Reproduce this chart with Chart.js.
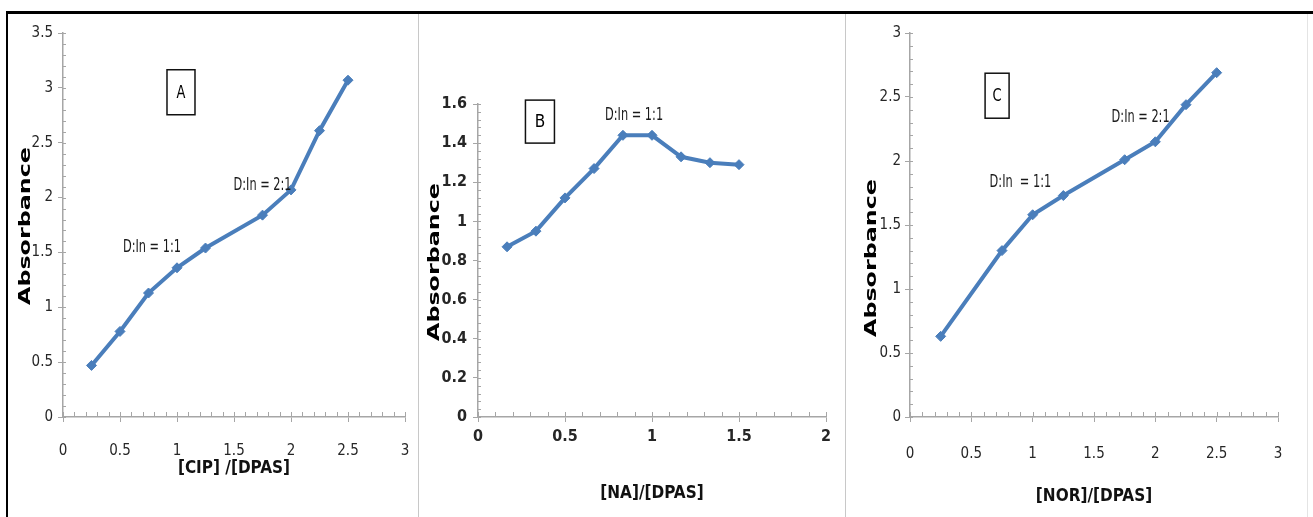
<!DOCTYPE html>
<html>
<head>
<meta charset="utf-8">
<script src="https://cdn.jsdelivr.net/npm/chart.js@4"></script>
<style>
  body { margin: 0; background: #fff; width: 1313px; height: 517px; overflow: hidden; position: relative; }
  .panel { position: absolute; top: 0; height: 517px; }
  .line { position: absolute; }
</style>
</head>
<body>
<div class="line" style="left:6px;top:11px;width:1307px;height:3px;background:#000"></div>
<div class="line" style="left:6px;top:11px;width:2px;height:506px;background:#000"></div>
<div class="line" style="left:418px;top:14px;width:1px;height:503px;background:#c8c8c8"></div>
<div class="line" style="left:845px;top:14px;width:1px;height:503px;background:#c8c8c8"></div>
<div class="line" style="left:1307px;top:14px;width:1px;height:503px;background:#e4e4e4"></div>

<div class="panel" style="left:0;width:418px"><canvas id="chartA"></canvas></div>
<div class="panel" style="left:419px;width:426px"><canvas id="chartB"></canvas></div>
<div class="panel" style="left:846px;width:461px"><canvas id="chartC"></canvas></div>

<script>
// panel A: CIP
const cipRatio = [0.25, 0.5, 0.75, 1, 1.25, 1.75, 2, 2.25, 2.5];
const cipAbs = [0.47, 0.78, 1.13, 1.36, 1.54, 1.84, 2.07, 2.61, 3.07];

// panel B: NA
const naRatio = [0.167, 0.333, 0.5, 0.667, 0.833, 1, 1.167, 1.333, 1.5];
const naAbs = [0.87, 0.95, 1.12, 1.27, 1.44, 1.44, 1.33, 1.3, 1.29];

// panel C: NOR
const norRatio = [0.25, 0.75, 1, 1.25, 1.75, 2, 2.25, 2.5];
const norAbs = [0.63, 1.3, 1.58, 1.73, 2.01, 2.15, 2.44, 2.69];

const blue = "#4a7ebb";
const axisGray = "#a6a6a6";
const narrow = "'Liberation Sans Narrow', 'DejaVu Sans Condensed', sans-serif";

// text squeezed / stretched horizontally to look like the original fonts
function drawText(ctx, text, x, y, font, sx) {
  ctx.save();
  ctx.translate(x, y);
  ctx.scale(sx, 1);
  ctx.font = font;
  ctx.fillText(text, 0, 0);
  ctx.restore();
}

// small inner ticks + boxed letter + notes + y title
const extras = {
  id: "extras",
  afterDraw(chart, args, opts) {
    const { ctx, scales: { x, y }, chartArea } = chart;
    ctx.save();
    ctx.strokeStyle = axisGray;
    ctx.lineWidth = 1;
    for (let v = 0; v <= x.max + 1e-9; v += opts.xMinor) {
      const px = Math.round(x.getPixelForValue(v)) + 0.5;
      ctx.beginPath();
      ctx.moveTo(px, chartArea.bottom);
      ctx.lineTo(px, chartArea.bottom - 5);
      ctx.stroke();
    }
    for (let v = 0; v <= y.max + 1e-9; v += opts.yMinor) {
      const py = Math.round(y.getPixelForValue(v)) + 0.5;
      ctx.beginPath();
      ctx.moveTo(chartArea.left, py);
      ctx.lineTo(chartArea.left + 3, py);
      ctx.stroke();
    }

    // boxed panel letter
    const b = opts.box;
    const bx = x.getPixelForValue(b.x);
    const by = y.getPixelForValue(b.y);
    ctx.fillStyle = "#fff";
    ctx.fillRect(bx - b.w / 2, by - b.h / 2, b.w, b.h);
    ctx.strokeStyle = "#111";
    ctx.lineWidth = 1.5;
    ctx.strokeRect(bx - b.w / 2, by - b.h / 2, b.w, b.h);
    ctx.fillStyle = "#000";
    ctx.textAlign = "center";
    ctx.textBaseline = "middle";
    drawText(ctx, b.text, bx, by + 1, b.font, 0.85);

    // ratio notes
    ctx.fillStyle = "#1a1a1a";
    opts.notes.forEach((n) => {
      drawText(ctx, n.text, x.getPixelForValue(n.x), y.getPixelForValue(n.y), "18px " + narrow, 0.7);
    });

    // y title, wide bold
    ctx.translate(opts.yTitle.x, opts.yTitle.y);
    ctx.rotate(-Math.PI / 2);
    ctx.font = "bold 16px 'DejaVu Sans', sans-serif";
    const w = ctx.measureText("Absorbance").width;
    ctx.scale(158 / w, 1);
    ctx.fillStyle = "#000";
    ctx.fillText("Absorbance", 0, 0);
    ctx.restore();
  },
};

const plainNum = (v) => String(+Number(v).toFixed(2));

function makeChart(id, xs, ys, cfg) {
  const points = xs.map((v, i) => ({ x: v, y: ys[i] }));
  const tickFont = { family: narrow, size: cfg.tickSize, weight: cfg.tickWeight };
  new Chart(document.getElementById(id), {
    type: "line",
    data: {
      datasets: [
        {
          data: points,
          borderColor: blue,
          backgroundColor: blue,
          borderWidth: 4,
          pointStyle: "rectRot",
          pointRadius: 5,
          pointBorderWidth: 1,
          tension: 0,
        },
      ],
    },
    options: {
      responsive: true,
      maintainAspectRatio: false,
      animation: false,
      events: [],
      layout: { padding: cfg.padding },
      plugins: {
        legend: { display: false },
        tooltip: { enabled: false },
        extras: cfg.extras,
      },
      scales: {
        x: {
          type: "linear",
          min: 0,
          max: cfg.xMax,
          afterFit: (s) => {
            s.height = cfg.xHeight;
            s.paddingLeft = 0;
            s.paddingRight = 0;
          },
          border: { color: axisGray, width: 1.5 },
          grid: { drawOnChartArea: false, color: axisGray, tickLength: 5 },
          ticks: { stepSize: 0.5, padding: cfg.xPad, color: "#262626", font: tickFont, maxRotation: 0, callback: plainNum },
          title: {
            display: true,
            text: cfg.xTitle,
            color: "#111",
            font: { family: narrow, size: 17, weight: "bold" },
            padding: { top: 0, bottom: cfg.xTitlePad },
          },
        },
        y: {
          min: 0,
          max: cfg.yMax,
          afterFit: (s) => {
            s.width = cfg.yWidth;
            s.paddingTop = 0;
            s.paddingBottom = 0;
          },
          border: { color: axisGray, width: 1.5 },
          grid: { drawOnChartArea: false, color: axisGray, tickLength: 5 },
          ticks: { stepSize: cfg.yStep, padding: cfg.yPad, color: "#262626", font: tickFont, callback: plainNum },
        },
      },
    },
    plugins: [extras],
  });
}

makeChart("chartA", cipRatio, cipAbs, {
  padding: { top: 33, right: 13, left: 0, bottom: 0 },
  xHeight: 100, yWidth: 63, xMax: 3, yMax: 3.5, yStep: 0.5,
  tickSize: 15, tickWeight: "normal", xPad: 20, yPad: 5,
  xTitle: "[CIP] /[DPAS]", xTitlePad: 38,
  extras: {
    xMinor: 0.1, yMinor: 0.1,
    box: { text: "A", x: 1.035, y: 2.96, w: 28, h: 45, font: "17px " + narrow },
    notes: [
      { text: "D:In = 1:1", x: 0.78, y: 1.55 },
      { text: "D:In = 2:1", x: 1.75, y: 2.11 },
    ],
    yTitle: { x: 26, y: 226 },
  },
});

makeChart("chartB", naRatio, naAbs, {
  padding: { top: 104, right: 19, left: 0, bottom: 0 },
  xHeight: 100, yWidth: 59, xMax: 2, yMax: 1.6, yStep: 0.2,
  tickSize: 16, tickWeight: "bold", xPad: 5, yPad: 6,
  xTitle: "[NA]/[DPAS]", xTitlePad: 13,
  extras: {
    xMinor: 0.1, yMinor: 0.04,
    box: { text: "B", x: 0.356, y: 1.51, w: 29, h: 43, font: "18px 'DejaVu Sans', sans-serif" },
    notes: [{ text: "D:In = 1:1", x: 0.897, y: 1.544 }],
    yTitle: { x: 16, y: 262 },
  },
});

makeChart("chartC", norRatio, norAbs, {
  padding: { top: 33, right: 29, left: 0, bottom: 0 },
  xHeight: 100, yWidth: 64, xMax: 3, yMax: 3, yStep: 0.5,
  tickSize: 15, tickWeight: "normal", xPad: 23, yPad: 4,
  xTitle: "[NOR]/[DPAS]", xTitlePad: 10,
  extras: {
    xMinor: 0.1, yMinor: 0.1,
    box: { text: "C", x: 0.71, y: 2.51, w: 24, h: 45, font: "17px " + narrow },
    notes: [
      { text: "D:In  = 1:1", x: 0.9, y: 1.83 },
      { text: "D:In = 2:1", x: 1.88, y: 2.34 },
    ],
    yTitle: { x: 26, y: 258 },
  },
});
</script>
</body>
</html>
